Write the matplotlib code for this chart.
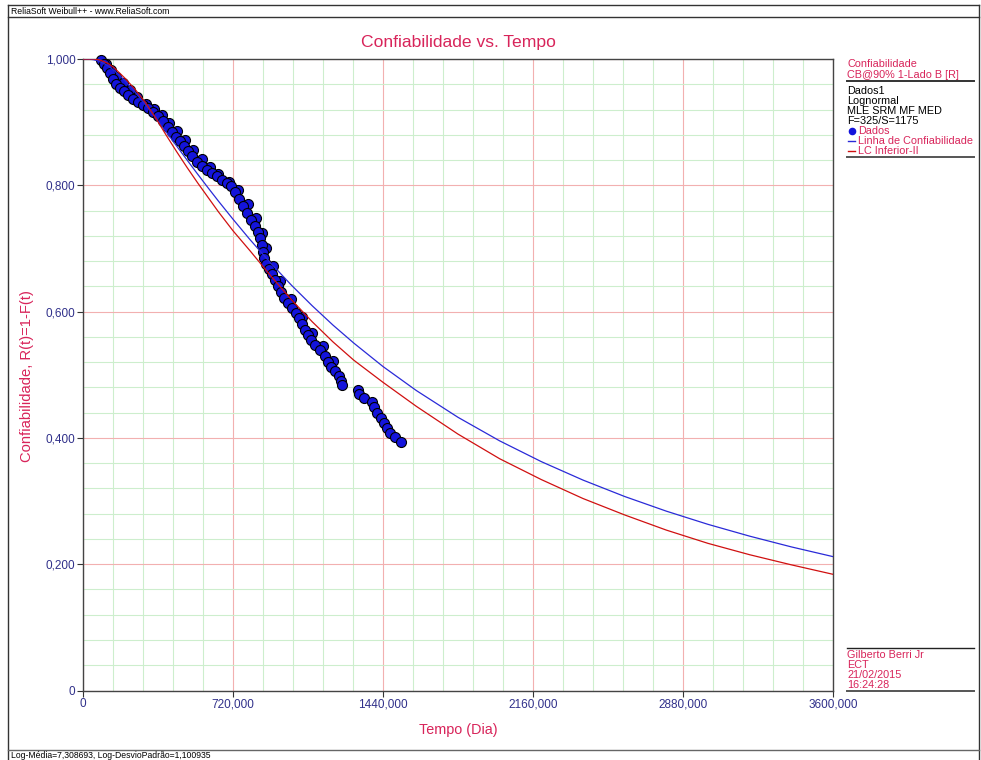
import matplotlib
matplotlib.use('Agg')
import matplotlib.pyplot as plt
from matplotlib.ticker import FixedLocator

W, H = 981, 760

# failure points (Dados): time in days and plotted reliability, centre of the band
dados_tempo = [86, 101, 115, 130, 144, 158, 178, 197, 216, 240, 264, 288, 312, 336, 360,
               384, 408, 427, 446, 466, 485, 504, 523, 547, 571, 595, 619, 643, 667, 691,
               710, 730, 749, 768, 787, 806, 826, 840, 850, 859, 864, 869, 878, 893, 907,
               922, 936, 950, 965, 984, 1003, 1022, 1037, 1051, 1066, 1080, 1094, 1114, 1138,
               1162, 1176, 1190, 1210, 1229, 1238, 1243, 1320, 1325, 1349, 1387, 1397, 1411,
               1430, 1445, 1459, 1474, 1498, 1526]
dados_conf = [0.998, 0.992, 0.986, 0.978, 0.968, 0.960, 0.954, 0.949, 0.943, 0.936, 0.932,
              0.927, 0.923, 0.916, 0.910, 0.902, 0.893, 0.885, 0.877, 0.870, 0.862, 0.854,
              0.846, 0.837, 0.831, 0.824, 0.819, 0.815, 0.809, 0.804, 0.799, 0.790, 0.779,
              0.768, 0.756, 0.745, 0.736, 0.726, 0.717, 0.706, 0.695, 0.685, 0.675, 0.667,
              0.660, 0.650, 0.641, 0.631, 0.622, 0.614, 0.606, 0.598, 0.590, 0.580, 0.571,
              0.563, 0.555, 0.547, 0.539, 0.530, 0.520, 0.512, 0.506, 0.498, 0.490, 0.484,
              0.476, 0.469, 0.463, 0.457, 0.449, 0.440, 0.431, 0.423, 0.416, 0.408, 0.401,
              0.393]
# failure points along the upper edge of the band
dados_tempo_b = [110, 135, 160, 190, 225, 260, 300, 340, 380, 415, 450, 490, 530, 570, 610,
                 650, 700, 745, 790, 830, 860, 880, 910, 945, 1000, 1050, 1100, 1150, 1200]
dados_conf_b = [0.992, 0.982, 0.972, 0.962, 0.951, 0.940, 0.929, 0.921, 0.911, 0.899, 0.886,
                0.871, 0.856, 0.842, 0.829, 0.818, 0.805, 0.792, 0.770, 0.748, 0.725, 0.700,
                0.672, 0.648, 0.620, 0.592, 0.566, 0.545, 0.522]

# reliability line and lower confidence bound
curva_tempo = [0, 25, 50, 75, 100, 125, 150, 175, 200, 250, 300, 350, 400, 450, 500, 550,
               600, 650, 720, 800, 900, 1000, 1100, 1200, 1300, 1440, 1600, 1800, 2000, 2200,
               2400, 2600, 2800, 3000, 3200, 3400, 3600]
linha_conf = [1.0, 0.9999, 0.999, 0.9967, 0.993, 0.9879, 0.9816, 0.9743, 0.966, 0.9477,
              0.9276, 0.9062, 0.8842, 0.862, 0.8398, 0.8178, 0.7962, 0.775, 0.7463, 0.7146,
              0.6772, 0.642, 0.6093, 0.5786, 0.5501, 0.513, 0.475, 0.4326, 0.3953, 0.3624,
              0.3332, 0.3072, 0.284, 0.2631, 0.2444, 0.2274, 0.212]
lc_inferior = [1.0, 1.0, 1.0, 0.999, 0.996, 0.992, 0.986, 0.978, 0.970, 0.952, 0.931,
               0.906, 0.879, 0.853, 0.828, 0.804, 0.781, 0.758, 0.728, 0.697, 0.657, 0.619,
               0.584, 0.552, 0.523, 0.488, 0.450, 0.406, 0.367, 0.334, 0.304, 0.278, 0.254,
               0.233, 0.215, 0.199, 0.184]

x_ticks = [0, 720, 1440, 2160, 2880, 3600]
x_tick_labels = ['0', '720,000', '1440,000', '2160,000', '2880,000', '3600,000']
y_ticks = [0, 0.2, 0.4, 0.6, 0.8, 1.0]
y_tick_labels = ['0', '0,200', '0,400', '0,600', '0,800', '1,000']

legenda_info = ['Dados1', 'Lognormal', 'MLE SRM MF MED', 'F=325/S=1175']
rodape_info = ['Gilberto Berri Jr', 'ECT', '21/02/2015', '16:24:28']

CRIMSON = '#d8245a'
NAVY = '#30308a'
BLUE = '#1414dc'
RED = '#d01010'

plt.rcParams['font.family'] = ['Liberation Sans', 'DejaVu Sans']

fig = plt.figure(figsize=(W / 100, H / 100), dpi=100)

# main plot area
x0, x1, ytop, ybot = 83, 833, 59, 690.5
ax = fig.add_axes([x0 / W, 1 - ybot / H, (x1 - x0) / W, (ybot - ytop) / H])
ax.set_xlim(0, 3600)
ax.set_ylim(0, 1.0)
ax.xaxis.set_major_locator(FixedLocator(x_ticks))
ax.yaxis.set_major_locator(FixedLocator(y_ticks))
ax.set_xticklabels(x_tick_labels)
ax.set_yticklabels(y_tick_labels)
ax.xaxis.set_minor_locator(FixedLocator([v for v in range(144, 3600, 144) if v % 720]))
ax.yaxis.set_minor_locator(FixedLocator([k * 0.04 for k in range(1, 25) if k % 5]))
ax.set_axisbelow(True)
ax.grid(which='minor', color='#cdeecd', lw=0.8)
ax.grid(which='major', color='#f2b0b0', lw=0.8)
ax.tick_params(which='major', length=4, width=0.8, color='#333333', pad=1.5,
               labelsize=8.5, labelcolor=NAVY)
ax.tick_params(which='minor', length=0)
for sp in ax.spines.values():
    sp.set_color('#444444')
    sp.set_linewidth(1.0)

ax.scatter(dados_tempo_b, dados_conf_b, s=52, facecolor=BLUE, edgecolor='black',
           linewidth=0.8, zorder=3, clip_on=False)
ax.scatter(dados_tempo, dados_conf, s=52, facecolor=BLUE, edgecolor='black',
           linewidth=0.8, zorder=3, clip_on=False)
ax.plot(curva_tempo, linha_conf, color='#2a2ad8', lw=0.9, zorder=4)
ax.plot(curva_tempo, lc_inferior, color=RED, lw=0.9, zorder=4)

# overlay in pixel coordinates for frame and texts
ov = fig.add_axes([0, 0, 1, 1])
ov.set_xlim(0, W)
ov.set_ylim(H, 0)
ov.axis('off')
ov.patch.set_visible(False)

frame = dict(color='#333333', lw=1.0)
ov.plot([8, 8], [5, 760], **frame)
ov.plot([8, 979], [5, 5], **frame)
ov.plot([979, 979], [5, 760], **frame)
ov.plot([8, 979], [16.5, 16.5], **frame)
ov.plot([8, 979], [750, 750], color='#666666', lw=1.0)

ov.text(11, 11, 'ReliaSoft Weibull++ - www.ReliaSoft.com', fontsize=6.2,
        color='black', va='center', ha='left')
ov.text(11, 755.5, 'Log-Média=7,308693, Log-DesvioPadrão=1,100935', fontsize=6.2,
        color='black', va='center', ha='left')

ov.text(458, 42, 'Confiabilidade vs. Tempo', fontsize=12.6, color=CRIMSON,
        ha='center', va='center')
ov.text(458, 730, 'Tempo (Dia)', fontsize=10.4, color=CRIMSON, ha='center', va='center')
ov.text(27, 376, 'Confiabilidade, R(t)=1-F(t)', fontsize=10.6, color=CRIMSON,
        ha='center', va='center', rotation=90)

# legend block on the right
lx = 847
ov.text(lx, 64, 'Confiabilidade', fontsize=7.8, color=CRIMSON, va='center')
ov.text(lx, 74.5, 'CB@90% 1-Lado B [R]', fontsize=7.8, color=CRIMSON, va='center')
ov.plot([lx, 974], [80.5, 80.5], color='#333333', lw=1.4)
for i, s in enumerate(legenda_info):
    ov.text(lx, 91.5 + i * 9.8, s, fontsize=7.8, color='black', va='center')
ov.scatter([851.5], [130.5], s=20, color=BLUE, zorder=3)
ov.plot([848, 855], [140.5, 140.5], color='#2a2ad8', lw=1.0)
ov.plot([848, 855], [150.5, 150.5], color=RED, lw=1.0)
ov.text(858, 130.5, 'Dados', fontsize=7.8, color=CRIMSON, va='center')
ov.text(858, 140.5, 'Linha de Confiabilidade', fontsize=7.8, color=CRIMSON, va='center')
ov.text(858, 150.5, 'LC Inferior-II', fontsize=7.8, color=CRIMSON, va='center')
ov.plot([lx, 974], [156.5, 156.5], color='#555555', lw=1.4)

# user block bottom right
ov.plot([lx, 974], [648, 648], color='#222222', lw=1.0)
for i, s in enumerate(rodape_info):
    ov.text(lx, 655.5 + i * 9.8, s, fontsize=7.8, color=CRIMSON, va='center')
ov.plot([lx, 974], [691, 691], color='#555555', lw=1.4)

fig.savefig('out.png', dpi=100)
